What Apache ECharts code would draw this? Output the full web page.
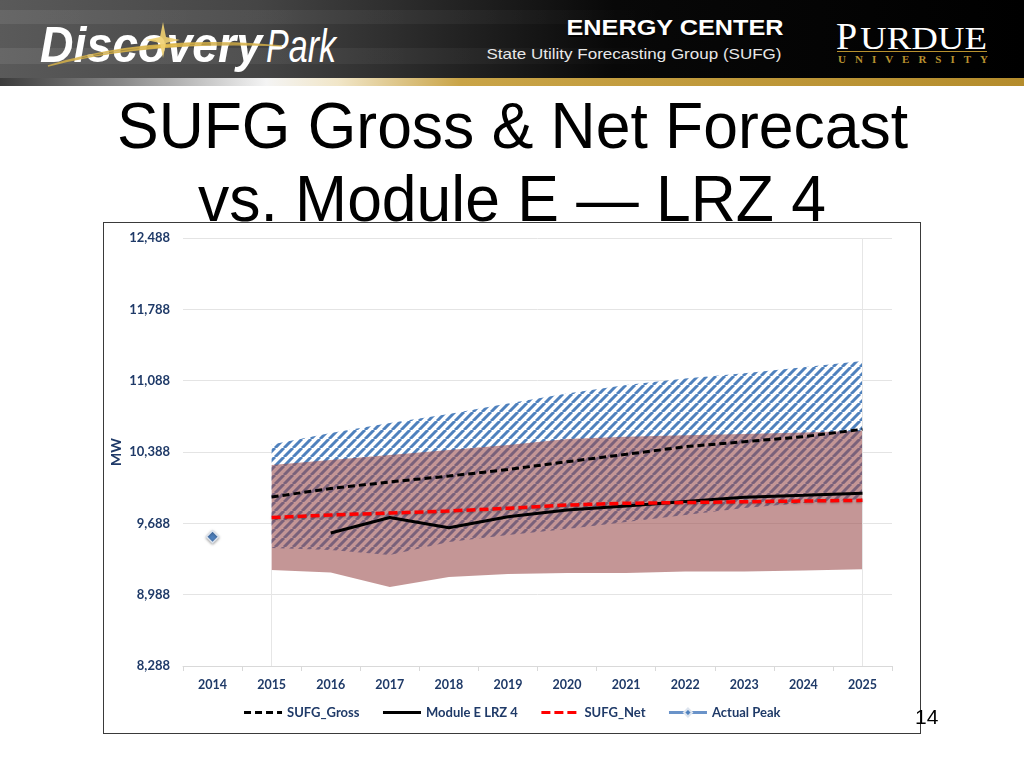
<!DOCTYPE html>
<html>
<head>
<meta charset="utf-8">
<script src="https://cdn.jsdelivr.net/npm/echarts@6/dist/echarts.min.js"></script>
<style>
  html, body { margin: 0; padding: 0; background: #fff; }
  body { width: 1024px; height: 768px; position: relative; overflow: hidden; }
  #hdr { position: absolute; left: 0; top: 0; }
  #title { position: absolute; left: 0; top: 0; }
  #box { position: absolute; left: 103px; top: 222px; width: 818px; height: 512px;
         box-sizing: border-box; border: 1.5px solid #3a3a3a; background: #fff; }
  #chart { position: absolute; left: 0; top: 0; width: 815px; height: 509px; }
  #pg { position: absolute; left: 915px; top: 705px; font: 21px "Liberation Sans", Arial, sans-serif; color: #000; }
</style>
</head>
<body>
<svg id="hdr" width="1024" height="90" xmlns="http://www.w3.org/2000/svg">
  <defs>
    <linearGradient id="bg" x1="0" y1="0" x2="1" y2="0">
      <stop offset="0" stop-color="#5a5a5a"/>
      <stop offset="0.25" stop-color="#454545"/>
      <stop offset="0.45" stop-color="#222"/>
      <stop offset="0.6" stop-color="#080808"/>
      <stop offset="1" stop-color="#000"/>
    </linearGradient>
    <linearGradient id="streak" x1="0" y1="0" x2="1" y2="0">
      <stop offset="0" stop-color="#fff" stop-opacity="0.08"/>
      <stop offset="0.45" stop-color="#fff" stop-opacity="0.04"/>
      <stop offset="0.65" stop-color="#fff" stop-opacity="0"/>
    </linearGradient>
    <linearGradient id="strip" x1="0" y1="0" x2="1" y2="0">
      <stop offset="0" stop-color="#3c3c3c"/>
      <stop offset="0.12" stop-color="#8a8a8a"/>
      <stop offset="0.26" stop-color="#f4f4f4"/>
      <stop offset="0.33" stop-color="#f1e6c8"/>
      <stop offset="0.45" stop-color="#c9a447"/>
      <stop offset="1" stop-color="#b48c2c"/>
    </linearGradient>
    <linearGradient id="gold" x1="0" y1="0" x2="1" y2="0">
      <stop offset="0" stop-color="#8a6a10" stop-opacity="0.2"/>
      <stop offset="0.5" stop-color="#e8c252"/>
      <stop offset="1" stop-color="#8a6a10" stop-opacity="0.2"/>
    </linearGradient>
  </defs>
  <rect x="0" y="0" width="1024" height="79" fill="url(#bg)"/>
  <rect x="0" y="10" width="1024" height="14" fill="url(#streak)"/>
  <rect x="0" y="48" width="1024" height="16" fill="url(#streak)"/>
  <rect x="0" y="78" width="1024" height="8" fill="url(#strip)"/>
  <text x="40" y="62" font-family="Liberation Sans, Arial, sans-serif" font-weight="bold" font-style="italic" font-size="50" fill="#fff" textLength="222" lengthAdjust="spacingAndGlyphs">Discovery</text>
  <text x="266" y="62" font-family="Liberation Sans, Arial, sans-serif" font-style="italic" font-size="46" fill="#fff" textLength="70" lengthAdjust="spacingAndGlyphs">Park</text>
  <path d="M 48 66 Q 150 34 282 46 Q 150 40 48 66 Z" fill="url(#gold)" stroke="#d9b44a" stroke-width="1.5" stroke-opacity="0.8"/>
  <path d="M 163 22 L 166 37 L 180 40 L 166 43 L 163 58 L 160 43 L 146 40 L 160 37 Z" fill="#f0d070" opacity="0.9"/>
  <text x="676" y="37" text-anchor="middle" font-family="Liberation Sans, Arial, sans-serif" font-weight="bold" font-size="22" fill="#000" opacity="0.8" textLength="217" lengthAdjust="spacingAndGlyphs">ENERGY CENTER</text>
  <text x="675" y="35" text-anchor="middle" font-family="Liberation Sans, Arial, sans-serif" font-weight="bold" font-size="22" fill="#fff" textLength="217" lengthAdjust="spacingAndGlyphs">ENERGY CENTER</text>
  <text x="634" y="59" text-anchor="middle" font-family="Liberation Sans, Arial, sans-serif" font-size="15" fill="#e8e8e8" textLength="295" lengthAdjust="spacingAndGlyphs">State Utility Forecasting Group (SUFG)</text>
  <text x="836" y="49" font-family="Liberation Serif, Times New Roman, serif" font-size="38" fill="#fff">P</text>
  <text x="860" y="49" font-family="Liberation Serif, Times New Roman, serif" font-size="31" fill="#fff" textLength="127" lengthAdjust="spacingAndGlyphs">URDUE</text>
  <rect x="837" y="51" width="150" height="1" fill="#b8912f"/>
  <text x="838" y="63" font-family="Liberation Serif, Times New Roman, serif" font-weight="bold" font-size="11" fill="#b8912f" textLength="150" lengthAdjust="spacing">UNIVERSITY</text>
</svg>
<svg id="title" width="1024" height="230" xmlns="http://www.w3.org/2000/svg">
  <text x="117" y="148" font-family="Liberation Sans, Arial, sans-serif" font-size="65" fill="#000" textLength="791" lengthAdjust="spacingAndGlyphs">SUFG Gross &amp; Net Forecast</text>
  <text x="198" y="221" font-family="Liberation Sans, Arial, sans-serif" font-size="65" fill="#000" textLength="628" lengthAdjust="spacingAndGlyphs">vs. Module E — LRZ 4</text>
</svg>
<div id="box"><div id="chart"></div></div>
<div id="pg">14</div>
<script>
// ---- data (MW) ----
const years = ['2014','2015','2016','2017','2018','2019','2020','2021','2022','2023','2024','2025'];
const sufgGross = [null, 9946, 10030, 10094, 10152, 10216, 10293, 10365, 10440, 10489, 10538, 10611];
const sufgNet   = [null, 9745, 9770, 9789, 9809, 9836, 9868, 9885, 9892, 9900, 9907, 9914];
const moduleE   = [null, null, 9593, 9745, 9645, 9753, 9819, 9858, 9902, 9944, 9963, 9983];
const actualPeak = [9557, null, null, null, null, null, null, null, null, null, null, null];
const grossHigh = [null, 10462, 10575, 10673, 10761, 10864, 10962, 11046, 11109, 11160, 11219, 11281];
const grossLow  = [null, 9446, 9426, 9377, 9505, 9574, 9632, 9701, 9770, 9838, 9888, 9927];
const netHigh   = [null, 10260, 10310, 10359, 10408, 10457, 10516, 10538, 10552, 10565, 10579, 10597];
const netLow    = [null, 9230, 9206, 9063, 9161, 9191, 9201, 9201, 9215, 9215, 9225, 9237];
const yMin = 8288, yMax = 12488, yStep = 700;

const diff = (hi, lo) => hi.map((v, i) => (v == null || lo[i] == null) ? null : v - lo[i]);

// hatch pattern (blue diagonal stripes on white)
function hatch() {
  const s = 9;
  const c = document.createElement('canvas');
  c.width = s; c.height = s;
  const g = c.getContext('2d');
  g.fillStyle = '#ffffff';
  g.fillRect(0, 0, s, s);
  g.strokeStyle = 'rgb(79,129,189)';
  g.lineWidth = 3;
  for (const k of [-s, 0, s]) {
    g.beginPath();
    g.moveTo(k, s);
    g.lineTo(k + s, 0);
    g.stroke();
  }
  return c;
}

const navy = '#1F3A68';
const font = 'Lato, "Open Sans", sans-serif';
const noSym = { opacity: 0 };
const chart = echarts.init(document.getElementById('chart'));
chart.setOption({
  animation: false,
  grid: { left: 79, top: 15, right: 27, bottom: 66, containLabel: false, outerBoundsMode: 'none' },
  legend: {
    data: [
      { name: 'SUFG_Gross', itemStyle: noSym },
      { name: 'Module E LRZ 4', itemStyle: noSym },
      { name: 'SUFG_Net', itemStyle: noSym },
      { name: 'Actual Peak' }
    ],
    left: 'center', top: 478,
    itemWidth: 38, itemHeight: 10, itemGap: 22,
    lineStyle: { width: 3 },
    textStyle: { fontFamily: font, fontWeight: 'bold', fontSize: 13, color: navy }
  },
  xAxis: {
    type: 'category', data: years, boundaryGap: true,
    axisLine: { lineStyle: { color: '#D9D9D9', width: 1 } },
    axisTick: { show: true, length: 5, lineStyle: { color: '#D9D9D9' } },
    axisLabel: { margin: 12, fontFamily: font, fontWeight: 'bold', fontSize: 12.5, color: navy },
    splitLine: { show: false }
  },
  yAxis: {
    type: 'value', min: yMin, max: yMax, interval: yStep,
    name: 'MW', nameLocation: 'middle', nameGap: 60, nameMoveOverlap: false,
    nameTextStyle: { fontFamily: font, fontWeight: 'bold', fontSize: 14, color: navy },
    axisLine: { show: false }, axisTick: { show: false },
    axisLabel: { margin: 13, fontFamily: font, fontWeight: 'bold', fontSize: 13, color: navy,
                 formatter: v => Math.round(v).toLocaleString('en-US') },
    splitLine: { lineStyle: { color: '#E4E4E4', width: 1 } }
  },
  series: [
    { name: 'edges', type: 'line', data: [], silent: true, z: 1,
      markLine: { silent: true, symbol: 'none', label: { show: false },
        lineStyle: { color: '#E6E6E6', width: 1, type: 'solid' },
        data: [
          [{ coord: ['2015', yMin] }, { coord: ['2015', netLow[1]] }],
          [{ coord: ['2025', yMin] }, { coord: ['2025', yMax] }]
        ] } },
    { name: 'grossBase', type: 'line', stack: 'gross', data: grossLow, symbol: 'none', silent: true,
      lineStyle: { width: 0, opacity: 0 }, z: 2 },
    { name: 'grossBand', type: 'line', stack: 'gross', data: diff(grossHigh, grossLow), symbol: 'none', silent: true,
      lineStyle: { width: 0, opacity: 0 }, z: 2,
      areaStyle: { color: { image: hatch(), repeat: 'repeat' }, opacity: 1 } },
    { name: 'netBase', type: 'line', stack: 'net', data: netLow, symbol: 'none', silent: true,
      lineStyle: { width: 0, opacity: 0 }, z: 3 },
    { name: 'netBand', type: 'line', stack: 'net', data: diff(netHigh, netLow), symbol: 'none', silent: true,
      lineStyle: { width: 0, opacity: 0 }, z: 3,
      areaStyle: { color: 'rgba(153,74,74,0.58)', opacity: 1 } },
    { name: 'SUFG_Gross', type: 'line', data: sufgGross, symbol: 'none', z: 5,
      itemStyle: { color: '#000' },
      lineStyle: { color: '#000', width: 3, type: [7, 4] } },
    { name: 'Module E LRZ 4', type: 'line', data: moduleE, symbol: 'none', z: 5,
      itemStyle: { color: '#000' },
      lineStyle: { color: '#000', width: 3, type: 'solid' } },
    { name: 'SUFG_Net', type: 'line', data: sufgNet, symbol: 'none', z: 5,
      itemStyle: { color: '#FF0000' },
      lineStyle: { color: '#FF0000', width: 3.5, type: [9, 4],
                   shadowColor: 'rgba(0,0,0,0.25)', shadowBlur: 2, shadowOffsetY: 1 } },
    { name: 'Actual Peak', type: 'line', data: actualPeak, symbol: 'diamond', symbolSize: 12, z: 6,
      itemStyle: { color: '#4F81BD', borderColor: '#DDE4EE', borderWidth: 1.5,
                   shadowColor: 'rgba(0,0,0,0.35)', shadowBlur: 3, shadowOffsetY: 1 },
      lineStyle: { color: '#6A93C9', width: 3.5 } }
  ]
});
</script>
</body>
</html>
